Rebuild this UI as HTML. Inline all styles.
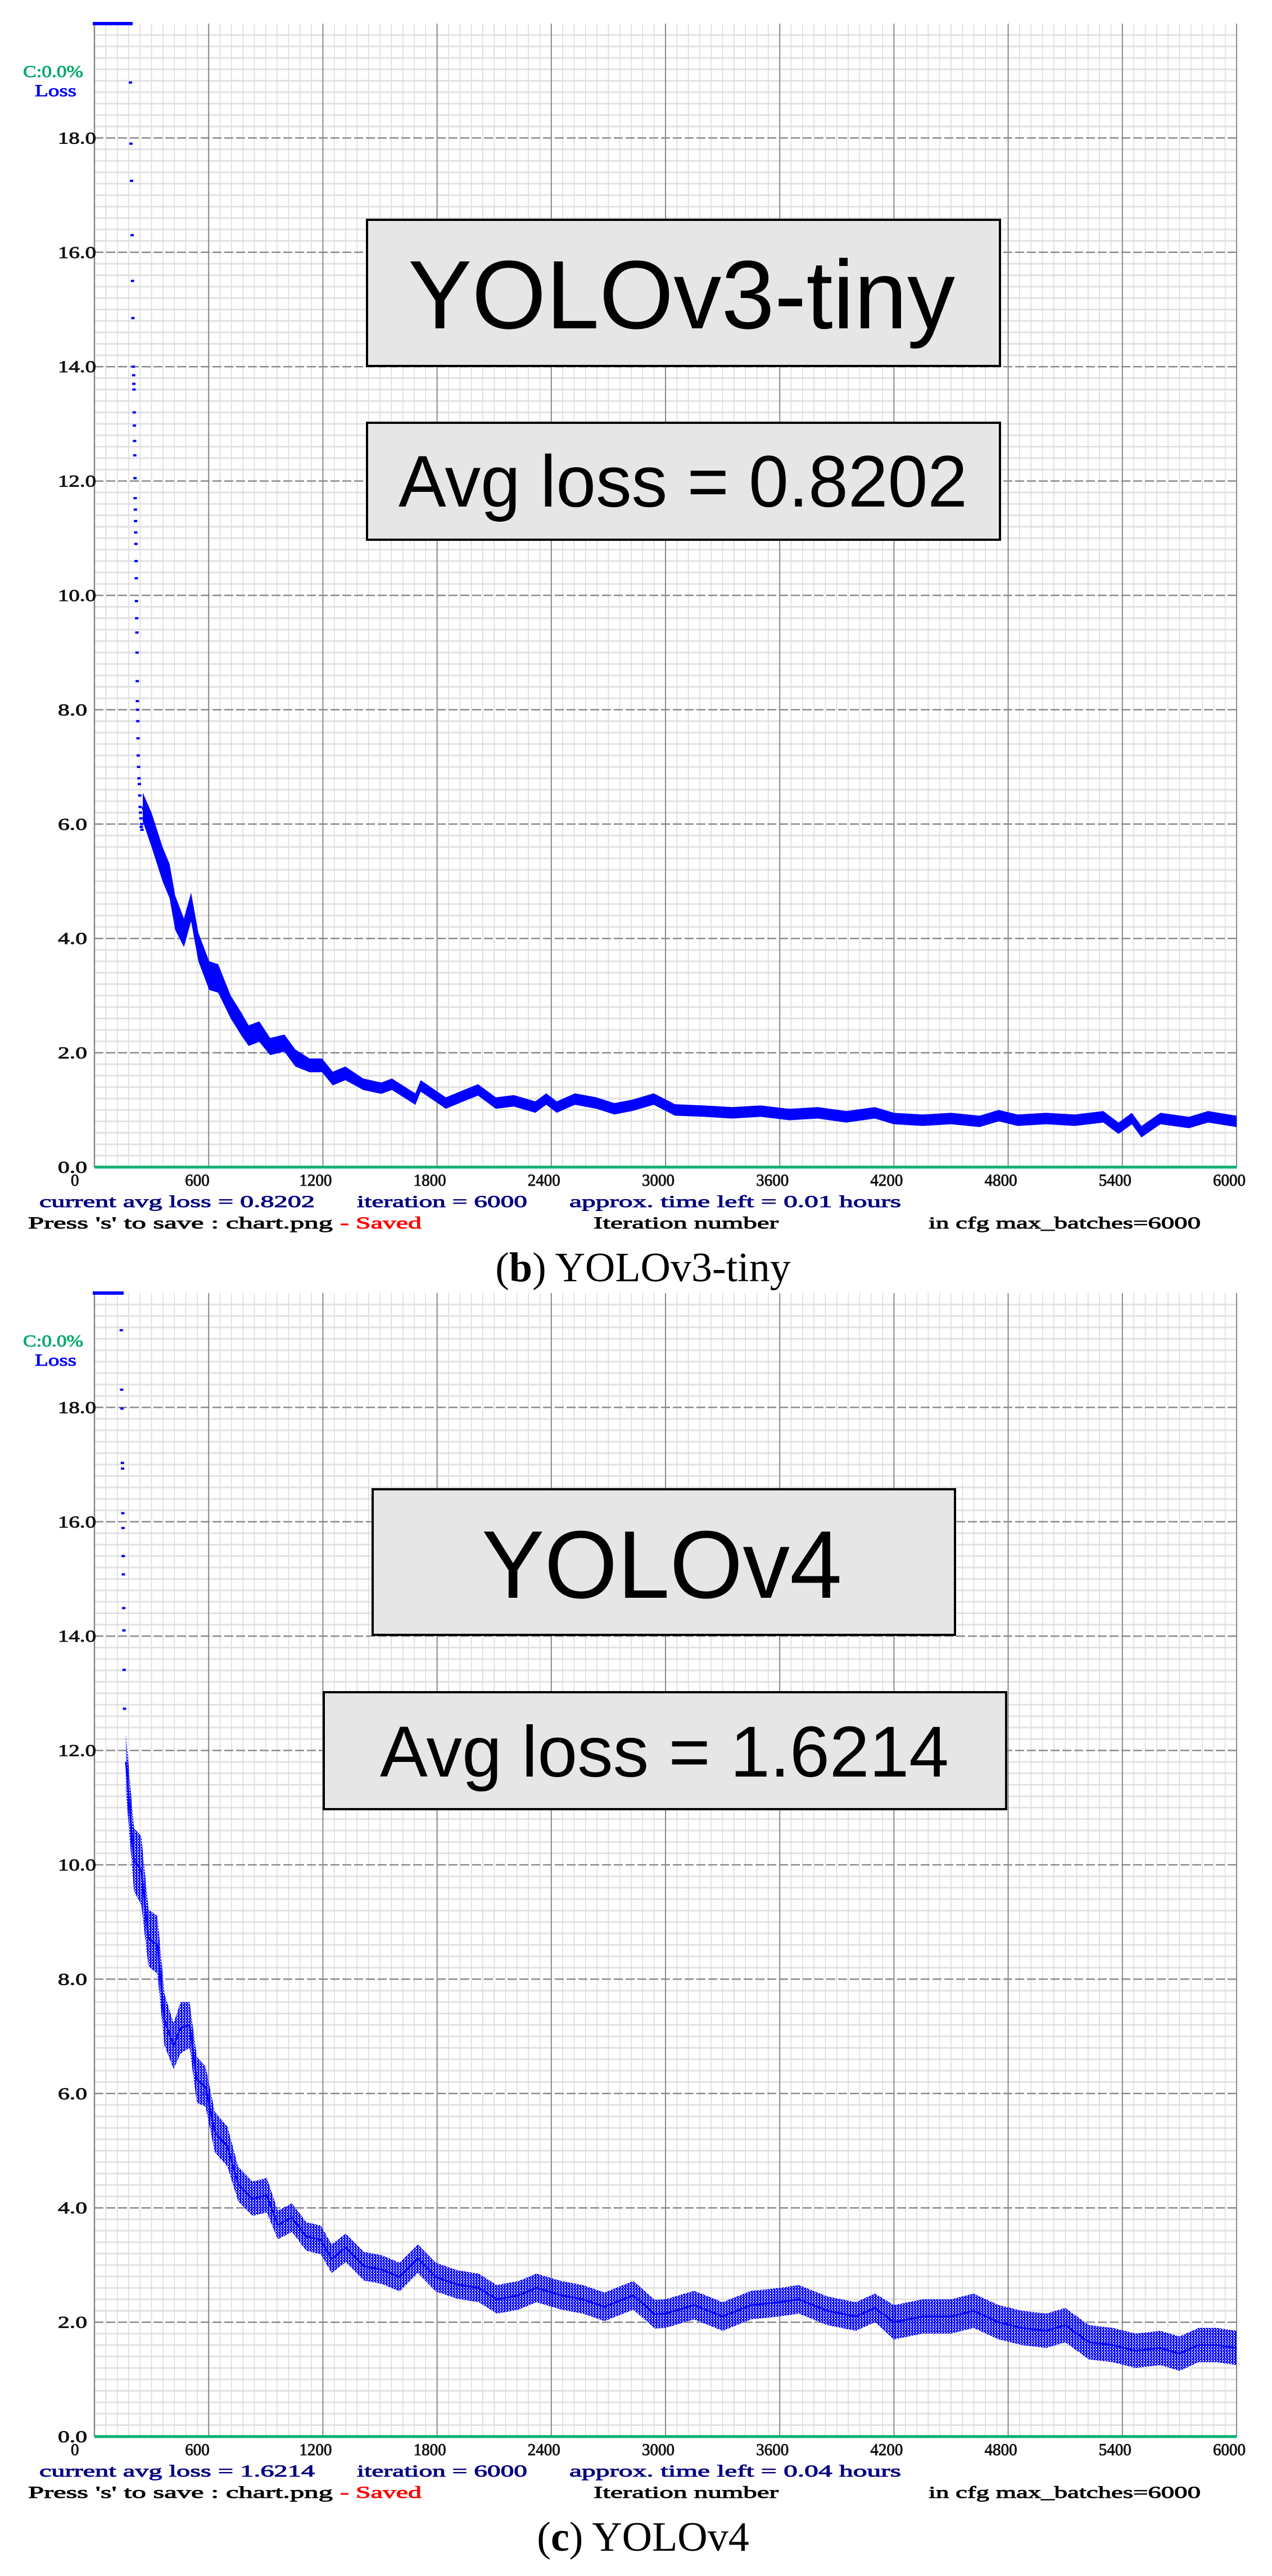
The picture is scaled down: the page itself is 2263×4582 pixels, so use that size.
<!DOCTYPE html>
<html><head><meta charset="utf-8"><style>
html,body{margin:0;padding:0;background:#fff;}
svg{display:block;}
</style></head><body>
<svg id="fig" width="2263" height="4582" viewBox="0 0 2263 4582" xmlns="http://www.w3.org/2000/svg">
<defs>
<pattern id="dots1" width="4" height="4" patternUnits="userSpaceOnUse"><rect x="0" y="0" width="4" height="4" fill="#0000ff"/></pattern>
<pattern id="dots2" width="5" height="5" patternUnits="userSpaceOnUse"><rect x="0" y="0" width="4" height="3" fill="#0000ff"/><rect x="2" y="3" width="3" height="2" fill="#0000ff"/></pattern>
</defs>
</svg>
<script>
const xTickLabels = ["0","600","1200","1800","2400","3000","3600","4200","4800","5400","6000"];
const yTickLabels = ["0.0","2.0","4.0","6.0","8.0","10.0","12.0","14.0","16.0","18.0"];
const xTickValues = [0,600,1200,1800,2400,3000,3600,4200,4800,5400,6000];
const yTickValues = [0,2,4,6,8,10,12,14,16,18];

const c1EarlyIter = [189,192,195,198,200,202,204,206,207,208,209,210,211,212,213,214,215,216,217,218,219,220,221,222,223,224,225,226,227,228,229,230,232,234,236,238,240,242,244,246,248,250];
const c1EarlyLoss = [18.97,17.9,17.25,16.3,15.5,14.85,14.0,13.85,13.7,13.6,13.2,12.97,12.7,12.45,12.05,11.7,11.5,11.3,11.1,10.9,10.6,10.3,9.9,9.6,9.35,9.0,8.5,8.15,8.0,7.8,7.5,7.2,7.0,6.8,6.7,6.5,6.3,6.2,6.1,5.95,6.0,5.9];
const c1Iter = [254,300,358,395,424,470,508,546,603,650,716,772,810,866,923,998,1055,1130,1196,1252,1318,1412,1507,1563,1657,1686,1714,1789,1846,1940,2015,2109,2203,2316,2373,2429,2524,2637,2731,2825,2938,3050,3200,3350,3500,3650,3800,3950,4100,4200,4350,4500,4650,4750,4850,5000,5150,5300,5380,5450,5500,5600,5750,5850,6000];
const c1Loss = [6.3,5.9,5.3,5.0,4.45,4.1,4.55,3.85,3.35,3.3,2.8,2.5,2.3,2.37,2.11,2.17,1.91,1.78,1.78,1.55,1.64,1.45,1.38,1.45,1.25,1.19,1.42,1.25,1.12,1.25,1.35,1.12,1.16,1.05,1.19,1.05,1.19,1.12,1.02,1.08,1.19,1.0,0.98,0.95,0.98,0.92,0.95,0.88,0.95,0.85,0.82,0.85,0.8,0.9,0.82,0.85,0.82,0.88,0.68,0.85,0.62,0.85,0.78,0.88,0.8];
const c1Spread = [0.25,0.3,0.3,0.3,0.3,0.25,0.25,0.25,0.25,0.25,0.2,0.2,0.18,0.18,0.15,0.15,0.15,0.12,0.12,0.12,0.12,0.1,0.1,0.1,0.1,0.1,0.1,0.1,0.1,0.1,0.1,0.1,0.1,0.1,0.1,0.1,0.1,0.1,0.1,0.1,0.1,0.1,0.1,0.1,0.1,0.1,0.1,0.1,0.1,0.1,0.1,0.1,0.1,0.1,0.1,0.1,0.1,0.1,0.1,0.1,0.1,0.1,0.1,0.1,0.1];

const c2EarlyIter = [141,143,145,147,148,149,150,151,152,154,155,156,158];
const c2EarlyLoss = [19.35,18.31,17.98,17.03,16.93,16.15,15.89,15.4,15.08,14.49,14.1,13.41,12.73];
const c2Iter = [165,208,246,284,331,368,416,453,500,538,584,632,699,755,831,906,963,1038,1113,1189,1246,1320,1415,1510,1604,1699,1793,1906,2019,2114,2227,2322,2453,2566,2679,2831,2944,3000,3150,3300,3450,3600,3700,3850,4000,4100,4200,4350,4500,4618,4750,4872,5000,5100,5224,5350,5469,5600,5700,5800,5897,6000];
const c2Loss = [11.8,10.09,9.9,8.72,8.6,7.29,6.83,7.15,7.2,6.24,6.12,5.33,5.07,4.42,4.16,4.22,3.7,3.83,3.5,3.44,3.11,3.3,2.98,2.92,2.79,3.11,2.79,2.66,2.6,2.4,2.47,2.6,2.47,2.4,2.27,2.47,2.14,2.15,2.3,2.1,2.3,2.35,2.4,2.2,2.1,2.25,2.0,2.1,2.1,2.2,2.0,1.9,1.85,1.95,1.65,1.6,1.5,1.55,1.45,1.6,1.6,1.55];
const c2Spread = [0.5,0.55,0.6,0.5,0.5,0.45,0.4,0.45,0.4,0.4,0.35,0.35,0.35,0.3,0.3,0.3,0.25,0.25,0.25,0.25,0.25,0.25,0.25,0.25,0.25,0.25,0.25,0.25,0.25,0.25,0.25,0.25,0.25,0.25,0.25,0.25,0.25,0.25,0.25,0.25,0.25,0.25,0.25,0.25,0.25,0.25,0.3,0.3,0.3,0.3,0.3,0.3,0.3,0.3,0.3,0.3,0.3,0.3,0.3,0.3,0.3,0.3];

const NS = "http://www.w3.org/2000/svg";
const svg = document.getElementById('fig');
function mk(tag, attrs, parent){
  const e = document.createElementNS(NS, tag);
  for (const k in attrs) e.setAttribute(k, attrs[k]);
  (parent||svg).appendChild(e);
  return e;
}
function txt(parent, x, y, s, size, fill, len, anchor, family){
  const t = mk('text', {x:x, y:y, 'font-size':size, fill:fill, 'font-family':family||'"Liberation Serif", serif', stroke:fill, 'stroke-width':0.9}, parent);
  if (len) { t.setAttribute('textLength', len); t.setAttribute('lengthAdjust','spacingAndGlyphs'); }
  if (anchor) t.setAttribute('text-anchor', anchor);
  t.textContent = s;
  return t;
}

function drawChart(cfg){
  const L = 168, R = 2200, bottom = cfg.bottom, unit = 101.7, top = bottom - 20*unit;
  const xs = v => L + v/6000*(R-L);
  const ys = v => bottom - v*unit;
  const g = mk('g', {});
  
  

  const grid = mk('g', {}, g);
  
  
  for (let k = 1; k < 100; k++){
    const v = k*0.2;
    if (k % 10 === 0) continue;
    mk('line', {x1:L, x2:R, y1:ys(v), y2:ys(v), stroke:'#e2e2e2', 'stroke-width':3}, grid);
  }
  for (let it = 60; it <= 6000; it += 60){
    if (it % 600 === 0) continue;
    mk('line', {x1:xs(it), x2:xs(it), y1:top, y2:bottom, stroke:'#dadada', 'stroke-width':1.5}, grid);
  }
  for (let i = 1; i < yTickValues.length; i++){
    const gl = mk('line', {x1:L, x2:R, y1:ys(yTickValues[i]), y2:ys(yTickValues[i]), stroke:'#8a8a8a', 'stroke-width':2.5, 'stroke-dasharray':'16 5'}, grid);
    
    
  }
  for (let i = 1; i < xTickValues.length; i++){
    const gl = mk('line', {x1:xs(xTickValues[i]), x2:xs(xTickValues[i]), y1:top, y2:bottom, stroke:'#888', 'stroke-width':2}, grid);
    
    
  }
  const yAxis = mk('line', {x1:L, x2:L, y1:top, y2:bottom, stroke:'#888', 'stroke-width':2.5}, g);
  
  
  const xAxis = mk('line', {x1:L, x2:R, y1:bottom, y2:bottom, stroke:'#00b070', 'stroke-width':5}, g);
  
  
  const bar = mk('line', {x1:165, x2:cfg.barEnd, y1:top, y2:top, stroke:'#0000ff', 'stroke-width':6}, g);
  
  

  for (let i = 0; i < yTickValues.length; i++){
    const s = yTickLabels[i];
    const t = txt(g, 103, ys(yTickValues[i]) + 10, s, 30, '#111', s.length === 4 ? 68 : 52);
    
    
  }
  for (let i = 0; i < xTickValues.length; i++){
    const s = xTickLabels[i];
    const t = txt(g, xs(xTickValues[i]) - 42, bottom + 33, s, 30, '#111', s.length*14.5);
    
    
  }
  const cl = txt(g, 41, top + 95, 'C:0.0%', 30, '#00a86b', 107);
  
  
  const ll = txt(g, 62, top + 129, 'Loss', 30, '#0000ff', 74);
  
  

  const up = [], lo = [];
  for (let i = 0; i < cfg.iter.length; i++){
    up.push(xs(cfg.iter[i]).toFixed(1) + ',' + ys(cfg.loss[i] + cfg.spread[i]).toFixed(1));
    lo.unshift(xs(cfg.iter[i]).toFixed(1) + ',' + ys(cfg.loss[i] - cfg.spread[i]).toFixed(1));
  }
  const band = mk('polygon', {points: up.concat(lo).join(' '), fill: 'url(#' + cfg.pattern + ')'}, g);
  
  
  const pts = cfg.iter.map((v,i) => xs(v).toFixed(1) + ',' + ys(cfg.loss[i]).toFixed(1)).join(' ');
  const line = mk('polyline', {points: pts, fill:'none', stroke:'#0000ff', 'stroke-width':cfg.lineW, 'stroke-linejoin':'round'}, g);
  
  
  for (let i = 0; i < cfg.eIter.length; i++){
    const d = mk('rect', {x: xs(cfg.eIter[i]) - 3, y: ys(cfg.eLoss[i]) - 2, width:6, height:4, fill:'#0000ff'}, g);
    
    
  }

  cfg.boxes.forEach(b => {
    const r = mk('rect', {x:b.x, y:b.y, width:b.w, height:b.h, fill:'#e6e6e6', stroke:'#000', 'stroke-width':4}, g);
    
    
    const t = mk('text', {x:b.tx, y:b.ty, 'font-size':b.fs, 'font-family':'"Liberation Sans", sans-serif', fill:'#000', textLength:b.tl, lengthAdjust:'spacingAndGlyphs'}, g);
    t.textContent = b.text;
    
    
  });

  const b1 = bottom + 71, b2 = bottom + 109;
  const s1 = txt(g, 70, b1, 'current avg loss = ' + cfg.avg, 30, '#000080', 490);
  
  
  const s2 = txt(g, 635, b1, 'iteration = 6000', 30, '#000080', 303);
  
  
  const s3 = txt(g, 1013, b1, 'approx. time left = ' + cfg.time + ' hours', 30, '#000080', 590);
  
  
  const s4 = txt(g, 50, b2, "Press 's' to save : chart.png", 30, '#000', 542);
  
  
  const s5 = txt(g, 605, b2, '- Saved', 30, '#ff0000', 145);
  
  
  const s6 = txt(g, 1056, b2, 'Iteration number', 30, '#000', 329);
  
  
  const s7 = txt(g, 1652, b2, 'in cfg max_batches=6000', 30, '#000', 484);
  
  

  const cap = mk('text', {x:1144, y:cfg.capY, 'font-size':74, 'font-family':'"Liberation Serif", serif', fill:'#000', 'text-anchor':'middle'}, g);
  
  
  cap.appendChild(document.createTextNode('('));
  const bs = document.createElementNS(NS, 'tspan'); bs.setAttribute('font-weight','bold'); bs.textContent = cfg.letter; cap.appendChild(bs);
  cap.appendChild(document.createTextNode(') ' + cfg.title));
}

drawChart({name:'chart-yolov3-tiny', bottom:2076, barEnd:236, iter:c1Iter, loss:c1Loss, spread:c1Spread, eIter:c1EarlyIter, eLoss:c1EarlyLoss, pattern:'dots1', lineW:5,
  avg:'0.8202', time:'0.01', capY:2279, letter:'b', title:'YOLOv3-tiny',
  boxes:[{name:'title-box', x:653, y:391, w:1126, h:260, tx:726, ty:584, fs:173, tl:973, text:'YOLOv3-tiny'},
         {name:'avg-loss-box', x:653, y:752, w:1126, h:208, tx:709, ty:901, fs:130, tl:1012, text:'Avg loss = 0.8202'}]});
drawChart({name:'chart-yolov4', bottom:4334, barEnd:220, iter:c2Iter, loss:c2Loss, spread:c2Spread, eIter:c2EarlyIter, eLoss:c2EarlyLoss, pattern:'dots2', lineW:3,
  avg:'1.6214', time:'0.04', capY:4537, letter:'c', title:'YOLOv4',
  boxes:[{name:'title-box', x:663, y:2649, w:1036, h:259, tx:857, ty:2842, fs:171, tl:641, text:'YOLOv4'},
         {name:'avg-loss-box', x:576, y:3010, w:1214, h:208, tx:676, ty:3160, fs:128, tl:1012, text:'Avg loss = 1.6214'}]});
</script>
</body></html>
